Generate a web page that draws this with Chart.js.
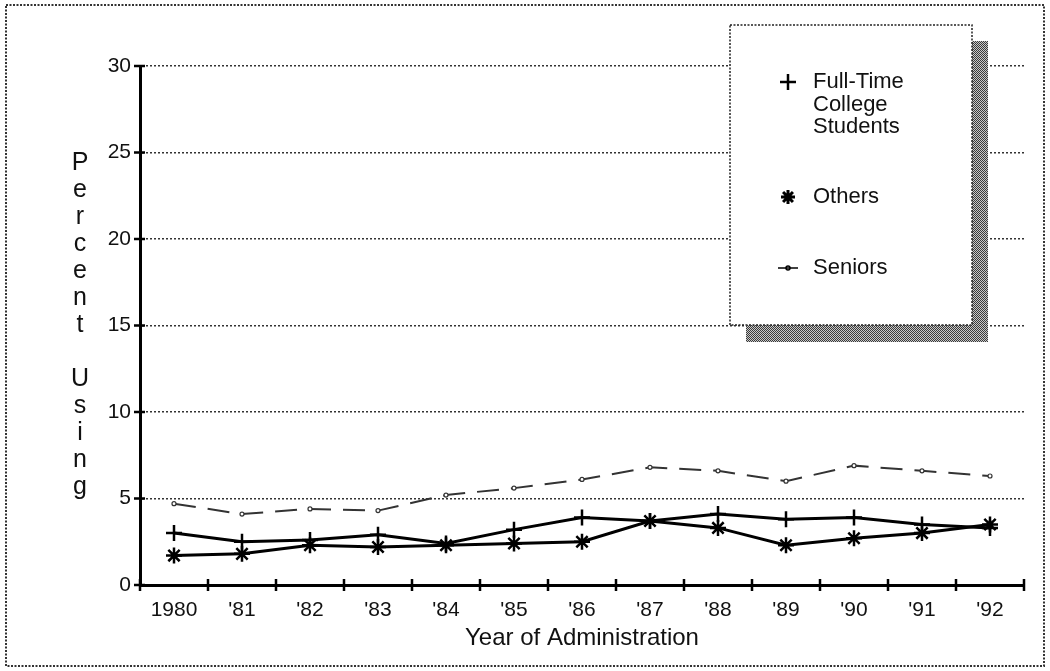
<!DOCTYPE html>
<html>
<head>
<meta charset="utf-8">
<script src="https://cdn.jsdelivr.net/npm/chart.js@4.4.1/dist/chart.umd.min.js"></script>
<style>
body { margin: 0; background: #fff; }
</style>
</head>
<body>
<canvas id="myChart" width="1050" height="671"></canvas>
<script>
// Data
const years = ['1980', "'81", "'82", "'83", "'84", "'85", "'86", "'87", "'88", "'89", "'90", "'91", "'92"];
const fullTime = [3.0, 2.5, 2.6, 2.9, 2.4, 3.2, 3.9, 3.7, 4.1, 3.8, 3.9, 3.5, 3.3];
const others = [1.7, 1.8, 2.3, 2.2, 2.3, 2.4, 2.5, 3.7, 3.3, 2.3, 2.7, 3.0, 3.5];
const seniors = [4.7, 4.1, 4.4, 4.3, 5.2, 5.6, 6.1, 6.8, 6.6, 6.0, 6.9, 6.6, 6.3];
const yTicks = [0, 5, 10, 15, 20, 25, 30];
const legendLines = [['Full-Time', 'College', 'Students'], ['Others'], ['Seniors']];
const yTitle = 'Percent Using';

const FONT = '"Liberation Sans", Arial, Helvetica, sans-serif';

// dotted frame round the whole picture
const frame = {
	id: 'frame',
	beforeDraw(chart) {
		let ctx = chart.ctx;
		ctx.save();
		ctx.fillStyle = '#fff';
		ctx.fillRect(0, 0, chart.width, chart.height);
		ctx.strokeStyle = '#333';
		ctx.lineWidth = 2;
		ctx.setLineDash([2, 1.5]);
		ctx.strokeRect(6, 5, chart.width - 12, chart.height - 10);
		ctx.restore();
	}
};

// tick marks that cross the axes, plus the stacked y title
const axisMarks = {
	id: 'axisMarks',
	afterDraw(chart) {
		let ctx = chart.ctx;
		let xs = chart.scales.x, ys = chart.scales.y;
		ctx.save();
		ctx.strokeStyle = '#000';
		ctx.lineWidth = 2.5;
		ctx.beginPath();
		for (let i = 0; i <= years.length; i++) {
			let px = xs.getPixelForValue(i - 0.5);
			ctx.moveTo(px, ys.bottom - 6);
			ctx.lineTo(px, ys.bottom + 6);
		}
		yTicks.forEach(v => {
			let py = ys.getPixelForValue(v);
			ctx.moveTo(xs.left - 6, py);
			ctx.lineTo(xs.left + 5, py);
		});
		ctx.stroke();

		ctx.fillStyle = '#111';
		ctx.font = '25px ' + FONT;
		ctx.textAlign = 'center';
		ctx.textBaseline = 'middle';
		let ty = 163;
		yTitle.split('').forEach(ch => {
			if (ch != ' ') ctx.fillText(ch, 80, ty);
			ty += 27;
		});
		ctx.restore();
	}
};

function shadowPattern(ctx) {
	let c = document.createElement('canvas');
	c.width = 2; c.height = 2;
	let p = c.getContext('2d');
	p.fillStyle = '#c8c8c8';
	p.fillRect(0, 0, 2, 2);
	p.fillStyle = '#3a3a3a';
	p.fillRect(0, 0, 1, 1);
	p.fillRect(1, 1, 1, 1);
	return ctx.createPattern(c, 'repeat');
}

// legend box with hatched shadow
const boxLegend = {
	id: 'boxLegend',
	afterDraw(chart) {
		let ctx = chart.ctx;
		let x = 730, y = 25, w = 242, h = 300, off = 16;
		ctx.save();
		ctx.fillStyle = shadowPattern(ctx);
		ctx.fillRect(x + off, y + off, w, h + 1);
		ctx.fillStyle = '#fff';
		ctx.fillRect(x, y, w, h);
		ctx.strokeStyle = '#222';
		ctx.lineWidth = 1.5;
		ctx.setLineDash([2, 1.5]);
		ctx.strokeRect(x, y, w, h);
		ctx.setLineDash([]);

		let rowY = [82, 197, 268];
		let sx = 788;
		ctx.font = '22px ' + FONT;
		ctx.fillStyle = '#111';
		ctx.textAlign = 'left';
		ctx.textBaseline = 'middle';
		legendLines.forEach((lines, i) => {
			lines.forEach((t, j) => ctx.fillText(t, 813, rowY[i] + j * 22.5));
		});

		ctx.strokeStyle = '#000';
		// plus
		ctx.lineWidth = 2.5;
		ctx.beginPath();
		ctx.moveTo(sx - 8, rowY[0]); ctx.lineTo(sx + 8, rowY[0]);
		ctx.moveTo(sx, rowY[0] - 8); ctx.lineTo(sx, rowY[0] + 8);
		ctx.stroke();
		// star
		ctx.lineWidth = 3;
		ctx.beginPath();
		for (let a = 0; a < 4; a++) {
			let ang = a * Math.PI / 4;
			let dx = Math.cos(ang) * 7, dy = Math.sin(ang) * 7;
			ctx.moveTo(sx - dx, rowY[1] - dy);
			ctx.lineTo(sx + dx, rowY[1] + dy);
		}
		ctx.stroke();
		// seniors
		ctx.lineWidth = 1.5;
		ctx.beginPath();
		ctx.moveTo(sx - 10, rowY[2]); ctx.lineTo(sx + 10, rowY[2]);
		ctx.stroke();
		ctx.beginPath();
		ctx.arc(sx, rowY[2], 2, 0, Math.PI * 2);
		ctx.stroke();
		ctx.restore();
	}
};

const config = {
	type: 'line',
	data: {
		labels: years,
		datasets: [
			{
				label: 'Full-Time College Students',
				data: fullTime,
				borderColor: '#000',
				borderWidth: 3,
				pointStyle: 'cross',
				pointRadius: 8,
				pointBorderWidth: 2.5,
				pointBorderColor: '#000',
				tension: 0
			},
			{
				label: 'Others',
				data: others,
				borderColor: '#000',
				borderWidth: 3,
				pointStyle: 'star',
				pointRadius: 8,
				pointBorderWidth: 2.5,
				pointBorderColor: '#000',
				tension: 0
			},
			{
				label: 'Seniors',
				data: seniors,
				borderColor: '#333',
				borderWidth: 2,
				borderDash: [22, 12],
				pointStyle: 'circle',
				pointRadius: 2,
				pointBorderWidth: 1.2,
				pointBorderColor: '#333',
				pointBackgroundColor: '#fff',
				tension: 0
			}
		]
	},
	options: {
		responsive: false,
		animation: false,
		layout: { padding: { left: 0, top: 66, right: 26, bottom: 0 } },
		plugins: {
			legend: { display: false },
			tooltip: { enabled: false }
		},
		scales: {
			x: {
				offset: true,
				afterFit: s => { s.height = 86; },
				grid: { display: true, drawOnChartArea: false, drawTicks: false, offset: true },
				border: { display: true, color: '#000', width: 3 },
				ticks: {
					color: '#111',
					font: { family: FONT, size: 21 },
					padding: 13,
					maxRotation: 0,
					autoSkip: false
				},
				title: {
					display: true,
					text: 'Year of Administration',
					color: '#111',
					font: { family: FONT, size: 24 },
					padding: { top: 0, bottom: 18 }
				}
			},
			y: {
				min: 0,
				max: 30,
				afterFit: s => { s.width = 140; },
				afterBuildTicks: s => { s.ticks = yTicks.map(v => ({ value: v })); },
				grid: {
					drawTicks: false,
					color: ctx => ctx.tick && ctx.tick.value == 0 ? 'rgba(0,0,0,0)' : '#333',
					lineWidth: 1.5
				},
				// in v4 border.dash is what dashes the grid lines
				border: { display: true, color: '#000', width: 3, dash: [2, 2] },
				ticks: {
					color: '#111',
					font: { family: FONT, size: 21 },
					padding: 9
				}
			}
		}
	},
	plugins: [frame, axisMarks, boxLegend]
};

let myChart = new Chart(document.getElementById('myChart'), config);
</script>
</body>
</html>
